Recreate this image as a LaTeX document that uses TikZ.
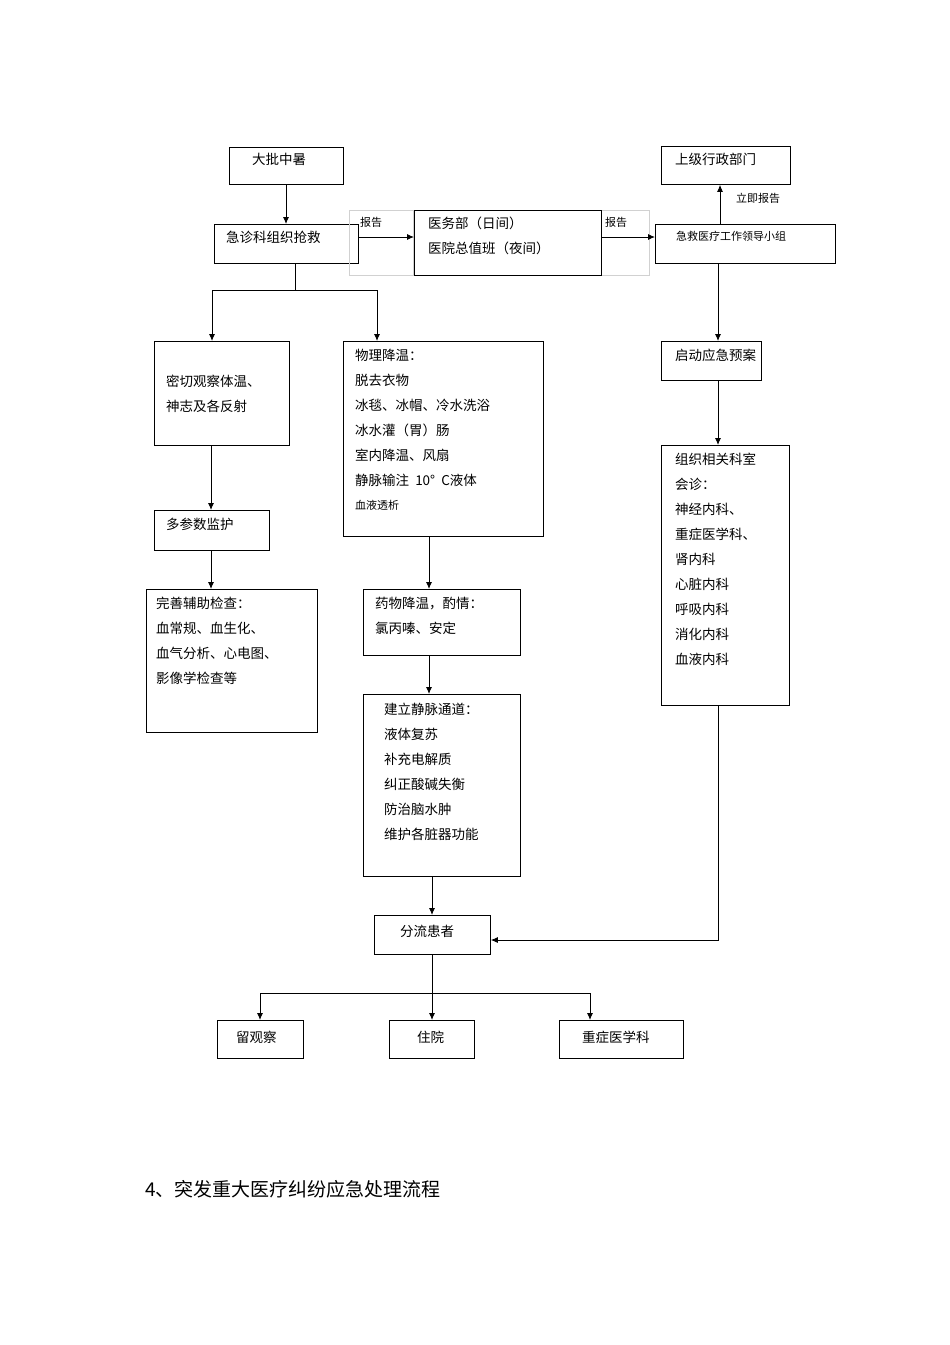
\documentclass[tikz,border=0pt]{standalone}
\usepackage{fontspec}
\setmainfont{Noto Sans CJK SC}
\usetikzlibrary{arrows.meta}
\begin{document}
\begin{tikzpicture}[x=1pt,y=-1pt,
  box/.style={draw,line width=0.8pt,inner sep=0pt},
  lbl/.style={draw=black!18,line width=0.5pt,inner sep=0pt},
  txt/.style={anchor=north west,align=left,inner sep=0pt,font=\fontsize{13.5}{25}\selectfont},
  stxt/.style={inner sep=0pt,font=\fontsize{11}{13}\selectfont},
  arr/.style={line width=0.9pt,-{Latex[length=7pt,width=6pt]}},
  ln/.style={line width=0.9pt}]
\useasboundingbox (0,0) rectangle (950,1345);
\newcommand\bx[5]{\node[box,minimum width=#4-#2,minimum height=#5-#3,anchor=north west] (#1) at (#2,#3) {};}
\bx{a}{229}{147}{343}{184}
\bx{b}{214}{224}{358}{263}
\node[lbl,minimum width=64,minimum height=65,anchor=north west] (l1) at (349,210) {};
\node[lbl,minimum width=48,minimum height=65,anchor=north west] (l2) at (601,210) {};
\bx{c}{414}{210}{601}{275}
\bx{d}{655}{224}{835}{263}
\bx{e}{661}{146}{790}{184}
\bx{f}{154}{341}{289}{445}
\bx{g}{343}{341}{543}{536}
\bx{h}{661}{341}{761}{380}
\bx{i}{661}{445}{789}{705}
\bx{j}{154}{510}{269}{550}
\bx{k}{146}{589}{317}{732}
\bx{m}{363}{589}{520}{655}
\bx{n}{363}{694}{520}{876}
\bx{p}{374}{915}{490}{954}
\bx{q}{217}{1020}{303}{1058}
\bx{r}{389}{1020}{474}{1058}
\bx{s}{559}{1020}{683}{1058}
\node[txt] (ta) at (252,153) {大批中暑};
\node[txt] (tb) at (226,231) {急诊科组织抢救};
\node[stxt,anchor=north west] (tl1) at (360,217) {报告};
\node[stxt,anchor=north west] (tl2) at (605,217) {报告};
\node[txt] (tc) at (428,217) {医务部（日间）\\医院总值班（夜间）};
\node[stxt,anchor=north west] (td) at (676,231) {急救医疗工作领导小组};
\node[txt] (te) at (675,153) {上级行政部门};
\node[stxt,anchor=north west] (tr) at (736,193) {立即报告};
\node[txt] (tf) at (166,375) {密切观察体温、\\神志及各反射};
\node[txt] (tg) at (355,349) {物理降温：\\脱去衣物\\冰毯、冰帽、冷水洗浴\\冰水灌（胃）肠\\室内降温、风扇\\静脉输注\ \ 10°\ \ C液体};
\node[stxt,anchor=north west] (tg2) at (355,500) {血液透析};
\node[txt] (th) at (675,349) {启动应急预案};
\node[txt] (ti) at (675,453) {组织相关科室\\会诊：\\神经内科、\\重症医学科、\\肾内科\\心脏内科\\呼吸内科\\消化内科\\血液内科};
\node[txt] (tj) at (166,518) {多参数监护};
\node[txt] (tk) at (156,597) {完善辅助检查：\\血常规、血生化、\\血气分析、心电图、\\影像学检查等};
\node[txt] (tm) at (375,597) {药物降温，酌情：\\氯丙嗪、安定};
\node[txt] (tn) at (384,703) {建立静脉通道：\\液体复苏\\补充电解质\\纠正酸碱失衡\\防治脑水肿\\维护各脏器功能};
\node[txt] (tp) at (400,925) {分流患者};
\node[txt] (tq) at (236,1031) {留观察};
\node[txt] (tr2) at (417,1031) {住院};
\node[txt] (ts) at (582,1031) {重症医学科};
\node[anchor=north west,inner sep=0pt,font=\fontsize{19}{22}\selectfont] (title) at (145,1180) {4、突发重大医疗纠纷应急处理流程};
% connectors
\draw[arr] (a.south -| 286,0) -- (b.north -| 286,0);
\draw[arr] (b.east |- 0,237) -- (c.west |- 0,237);
\draw[arr] (c.east |- 0,237) -- (d.west |- 0,237);
\draw[arr] (d.north -| 720,0) -- (e.south -| 720,0);
\draw[arr] (d.south -| 718,0) -- (h.north -| 718,0);
\draw[arr] (h.south -| 718,0) -- (i.north -| 718,0);
\draw[arr] (i.south -| 718,0) |- (p.east |- 0,940);
\coordinate (s1) at (295,290);
\draw[ln] (b.south -| 295,0) -- (s1);
\draw[arr] (s1) -| (f.north -| 212,0);
\draw[arr] (s1) -| (g.north -| 377,0);
\draw[arr] (f.south -| 211,0) -- (j.north -| 211,0);
\draw[arr] (j.south -| 211,0) -- (k.north -| 211,0);
\draw[arr] (g.south -| 429,0) -- (m.north -| 429,0);
\draw[arr] (m.south -| 429,0) -- (n.north -| 429,0);
\draw[arr] (n.south -| 432,0) -- (p.north -| 432,0);
\coordinate (s2) at (432,993);
\draw[ln] (p.south -| 432,0) -- (s2);
\draw[arr] (s2) -- (r.north -| 432,0);
\draw[arr] (s2) -| (q.north -| 260,0);
\draw[arr] (s2) -| (s.north -| 590,0);
\end{tikzpicture}
\end{document}
